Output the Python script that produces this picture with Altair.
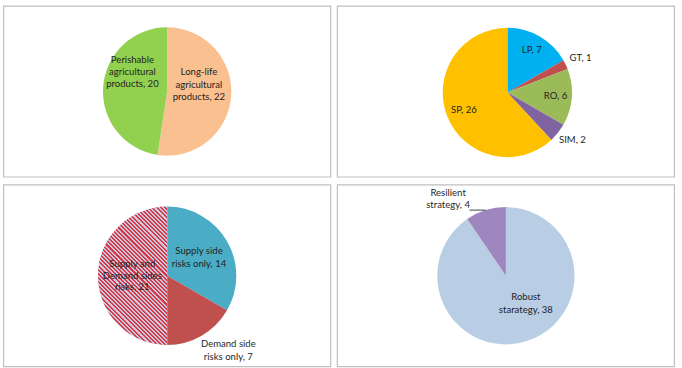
import altair as alt
import pandas as pd

# ---------------- data ----------------
p1_cats = ["Long-life\nagricultural\nproducts", "Perishable\nagricultural\nproducts"]
p1_vals = [22, 20]
p1_cols = ["#FAC090", "#92D050"]

p2_cats = ["LP", "GT", "RO", "SIM", "SP"]
p2_vals = [7, 1, 6, 2, 26]
p2_cols = ["#00B0F0", "#C0504D", "#9BBB59", "#8064A2", "#FFC000"]

p3_cats = ["Supply side\nrisks only", "Demand side\nrisks only", "Supply and\nDemand sides\nrisks"]
p3_vals = [14, 7, 21]
p3_cols = ["#4BACC6", "#C0504D", "#C9C3DC"]

p4_cats = ["Robust\nstarategy", "Resilient\nstrategy"]
p4_vals = [38, 4]
p4_cols = ["#B9CDE5", "#9E86BE"]

FONT = "Lato"
FS = 9.6
TXT = "#1F1F1F"
BORDER = "#BFBFBF"


def frame(cats, vals, cols):
    return pd.DataFrame({
        "cat": cats,
        "value": vals,
        "col": cols,
        "idx": list(range(len(cats))),
        "label": [f"{c}, {v}" for c, v in zip(cats, vals)],
    })


def pie(df, r, cx=None, cy=None):
    kw = {}
    if cx is not None:
        kw["x"] = cx
    if cy is not None:
        kw["y"] = cy
    base = alt.Chart(df).encode(
        theta=alt.Theta("value:Q", stack=True),
        order=alt.Order("idx:Q"),
    )
    arcs = base.mark_arc(outerRadius=r, **kw).encode(
        color=alt.Color("col:N", scale=None, legend=None)
    )
    return base, arcs, kw


def label(base, kw, cat, radius, dx=0, dy=0, lh=12.5):
    nlines = cat.count("\n") + 1
    return base.mark_text(
        radius=radius, dx=dx, dy=dy - (nlines - 1) / 2 * lh, font=FONT, fontSize=FS,
        color=TXT, lineBreak="\n", lineHeight=lh, align="center", baseline="middle", **kw
    ).encode(
        text=alt.condition(alt.datum.cat == cat, "label:N", alt.value(""))
    )


def border(w, h):
    return alt.Chart(pd.DataFrame({"b": [0]})).mark_rect(
        filled=False, stroke=BORDER, strokeWidth=1.2
    ).encode(x=alt.value(0.6), x2=alt.value(w - 0.6), y=alt.value(0.6), y2=alt.value(h - 0.6))


W1, W2 = 330, 340
H1, H2 = 173, 184

# panel 1
df1 = frame(p1_cats, p1_vals, p1_cols)
b1, a1, k1 = pie(df1, 64.5)
c1 = alt.layer(
    border(W1, H1),
    a1,
    label(b1, k1, p1_cats[0], 32, 0, -9),
    label(b1, k1, p1_cats[1], 35, 0, -17),
).properties(width=W1, height=H1)

# panel 2
df2 = frame(p2_cats, p2_vals, p2_cols)
b2, a2, k2 = pie(df2, 65, cx=171.5, cy=87.5)
c2 = alt.layer(
    border(W2, H1),
    a2,
    label(b2, k2, "LP", 49),
    label(b2, k2, "GT", 80, 1.5, 0),
    label(b2, k2, "RO", 48.5),
    label(b2, k2, "SIM", 81, 2, -3),
    label(b2, k2, "SP", 47),
).properties(width=W2, height=H1)

# panel 3 (hatched slice drawn with a striped gradient)
df3 = frame(p3_cats, p3_vals, p3_cols)
b3, a3, k3 = pie(df3, 69.5)
n = 50
stops = []
red, light = "#D73A47", "#CCC6DE"
for i in range(n):
    o0 = i / n
    o1 = (i + 0.5) / n
    o2 = (i + 1) / n
    stops += [
        alt.GradientStop(offset=o0, color=red),
        alt.GradientStop(offset=o1, color=red),
        alt.GradientStop(offset=o1, color=light),
        alt.GradientStop(offset=o2, color=light),
    ]
hatch = alt.LinearGradient(gradient="linear", stops=stops, x1=0, y1=1, x2=0.6, y2=-0.2)
hatched = b3.mark_arc(outerRadius=69.5, fill=hatch).encode(
    opacity=alt.condition(alt.datum.cat == p3_cats[2], alt.value(1), alt.value(0))
)
c3 = alt.layer(
    border(W1, H2),
    a3,
    hatched,
    label(b3, k3, p3_cats[0], 37, 0, 0, lh=13),
    label(b3, k3, p3_cats[1], 97, 13, -9, lh=13),
    label(b3, k3, p3_cats[2], 35, 0, 0, lh=11.5),
).properties(width=W1, height=H2)

# panel 4
df4 = frame(p4_cats, p4_vals, p4_cols)
b4, a4, k4 = pie(df4, 69)
leader = alt.Chart(pd.DataFrame({"b": [0]})).mark_rule(color="#404040", strokeWidth=1).encode(
    x=alt.value(133.5), x2=alt.value(149.5), y=alt.value(26)
)
c4 = alt.layer(
    border(W2, H2),
    a4,
    leader,
    label(b4, k4, p4_cats[0], 35.5, 9.6, -6, lh=13),
    label(b4, k4, p4_cats[1], 96, -29.8, 14.5, lh=12.5),
).properties(width=W2, height=H2)

chart = alt.vconcat(
    alt.hconcat(c1, c2, spacing=3.5),
    alt.hconcat(c3, c4, spacing=3.5),
    spacing=4.7,
).properties(
    padding={"left": 2, "top": 3.5, "right": 6.5, "bottom": 2.8},
    background="white",
).configure_view(
    stroke="transparent"
)

chart.save("out.html", embed_options={"renderer": "svg", "actions": False})
